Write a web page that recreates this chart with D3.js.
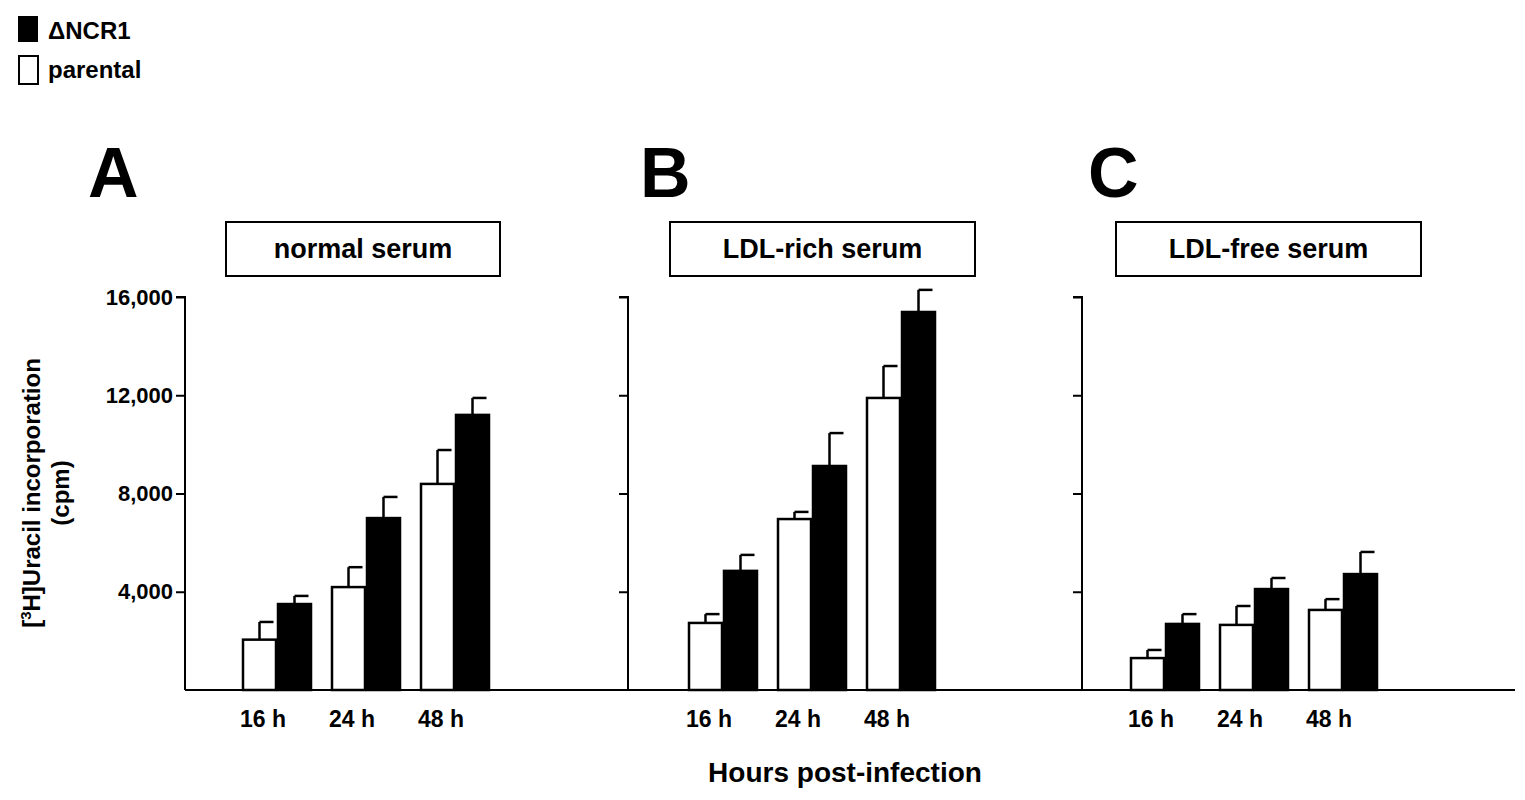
<!DOCTYPE html>
<html><head><meta charset="utf-8">
<script src="https://cdn.jsdelivr.net/npm/d3@7"></script>
<style>body{margin:0;background:#fff}text{font-family:"Liberation Sans",Arial,sans-serif;font-weight:bold}</style>
</head><body>
<svg id="c" width="1525" height="800"></svg>
<script>
// data
const times = ['16 h', '24 h', '48 h'];
const panels = ['A', 'B', 'C'];
const serums = ['normal serum', 'LDL-rich serum', 'LDL-free serum'];
const parental = [[2050, 4190, 8390], [2730, 6960, 11890], [1300, 2650, 3260]];
const parentalErr = [[2770, 5000, 9770], [3090, 7250, 13190], [1630, 3420, 3700]];
const ncr1 = [[3500, 7000, 11200], [4850, 9120, 15390], [2690, 4110, 4720]];
const ncr1Err = [[3830, 7860, 11890], [5500, 10460, 16290], [3090, 4560, 5620]];
const yTicks = [4000, 8000, 12000, 16000];

const svg = d3.select('#c');
const y = d3.scaleLinear().domain([0, 16000]).range([690, 297]);
const axisX = [185, 628, 1082];
const panelW = [443, 454, 433];
const groupStart = [92, 95, 83];
const letterX = [88, 640, 1088];
const bw = 35;

panels.forEach((p, i) => {
  let x0 = axisX[i];
  let g = svg.append('g');
  // axis line and ticks
  let ax = d3.axisLeft(y).tickValues(yTicks).tickSize(9)
    .tickFormat(i == 0 ? d3.format(',') : '');
  let ag = g.append('g').attr('transform', `translate(${x0},0)`).call(ax);
  ag.select('.domain').attr('d', `M-9,${y(16000)}H0V${y(0)}`).attr('stroke-width', 2);
  ag.selectAll('.tick line').attr('stroke-width', 2);
  ag.selectAll('.tick text').attr('font-size', 22).attr('fill', '#000')
    .style('font-family', '"Liberation Sans",Arial,sans-serif').style('font-weight', 'bold');
  g.append('line').attr('x1', x0).attr('x2', x0 + panelW[i])
    .attr('y1', y(0)).attr('y2', y(0)).attr('stroke', '#000').attr('stroke-width', 2);

  let xs = d3.scalePoint().domain(times).range([x0 + groupStart[i], x0 + groupStart[i] + 178]);
  times.forEach((t, j) => {
    let cx = xs(t);
    let bars = [
      {v: parental[i][j], e: parentalErr[i][j], x: cx - bw, fill: '#fff'},
      {v: ncr1[i][j], e: ncr1Err[i][j], x: cx, fill: '#000'}];
    bars.forEach(b => {
      g.append('line').attr('x1', b.x + bw / 2).attr('x2', b.x + bw / 2)
        .attr('y1', y(b.v)).attr('y2', y(b.e)).attr('stroke', '#000').attr('stroke-width', 2.5);
      g.append('line').attr('x1', b.x + bw / 2).attr('x2', b.x + bw / 2 + 14)
        .attr('y1', y(b.e)).attr('y2', y(b.e)).attr('stroke', '#000').attr('stroke-width', 2.5);
      g.append('rect').attr('x', b.x + 1).attr('y', y(b.v)).attr('width', bw - 2)
        .attr('height', y(0) - y(b.v)).attr('fill', b.fill).attr('stroke', '#000').attr('stroke-width', 2.5);
    });
    g.append('text').attr('x', cx - 14).attr('y', 727).attr('text-anchor', 'middle')
      .attr('font-size', 23).text(t);
  });

  // panel letter and serum box
  let bx = [226, 670, 1116][i];
  let bwid = 305 - (i == 0 ? 31 : 0);
  g.append('text').attr('x', letterX[i]).attr('y', 197).attr('font-size', 70).text(p);
  g.append('rect').attr('x', bx).attr('y', 222).attr('width', bwid)
    .attr('height', 54).attr('fill', '#fff').attr('stroke', '#000').attr('stroke-width', 2);
  g.append('text').attr('x', bx + bwid / 2).attr('y', 258)
    .attr('text-anchor', 'middle').attr('font-size', 27).text(serums[i]);
});

// axis titles
svg.append('text').attr('x', 845).attr('y', 782).attr('text-anchor', 'middle')
  .attr('font-size', 28).text('Hours post-infection');
let yl = svg.append('text').attr('transform', 'translate(40,493) rotate(-90)')
  .attr('text-anchor', 'middle').attr('font-size', 24);
yl.append('tspan').text('[');
yl.append('tspan').attr('font-size', 15).attr('dy', -9).text('3');
yl.append('tspan').attr('dy', 9).text('H]Uracil incorporation');
svg.append('text').attr('transform', 'translate(69,493) rotate(-90)')
  .attr('text-anchor', 'middle').attr('font-size', 24).text('(cpm)');

// legend
svg.append('rect').attr('x', 18).attr('y', 16).attr('width', 20).attr('height', 26).attr('fill', '#000');
svg.append('rect').attr('x', 19).attr('y', 56).attr('width', 19).attr('height', 28)
  .attr('fill', '#fff').attr('stroke', '#000').attr('stroke-width', 2);
svg.append('text').attr('x', 48).attr('y', 39).attr('font-size', 24).text('ΔNCR1');
svg.append('text').attr('x', 48).attr('y', 78).attr('font-size', 24).text('parental');
</script>
</body></html>
